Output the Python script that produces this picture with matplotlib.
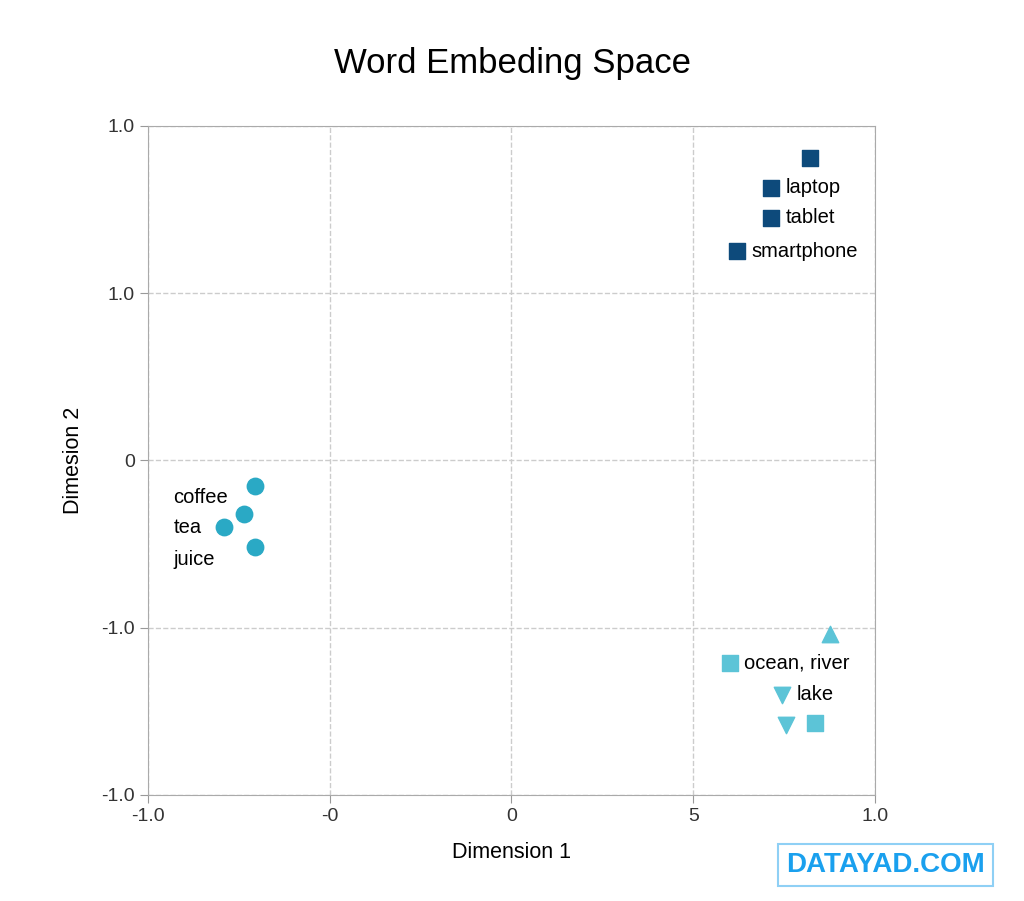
import matplotlib.pyplot as plt

plt.rcParams['font.family'] = ['Liberation Sans', 'DejaVu Sans']

# tick labels as printed on the reference
x_tick_labels = ['-1.0', '-0', '0', '5', '1.0']
y_tick_labels = ['-1.0', '-1.0', '0', '1.0', '1.0']

# tech words (dark squares)
tech_x = [3.64, 3.43, 3.43, 3.24]
tech_y = [3.81, 3.63, 3.45, 3.25]
tech_labels = ['', 'laptop', 'tablet', 'smartphone']

# drinks (circles)
drink_x = [0.59, 0.53, 0.42, 0.59]
drink_y = [1.85, 1.68, 1.60, 1.48]
drink_labels = ['coffee', 'tea', 'juice']
drink_label_y = [1.78, 1.60, 1.41]

# water words
water_sq_x = [3.20, 3.67]
water_sq_y = [0.79, 0.43]
water_up_x = [3.75]
water_up_y = [0.96]
water_dn_x = [3.49, 3.51]
water_dn_y = [0.60, 0.42]

fig = plt.figure(figsize=(10.24, 9.01), dpi=100)
ax = fig.add_axes([0.1445, 0.1177, 0.71, 0.7425])

dark = '#0d4a7b'
mid = '#2aa9c5'
light = '#5cc4d7'

ax.scatter(tech_x, tech_y, marker='s', s=120, color=dark, zorder=3)
for x, y, t in zip(tech_x, tech_y, tech_labels):
    if t:
        ax.text(x + 0.08, y, t, fontsize=14.5, va='center', ha='left')

ax.scatter(drink_x, drink_y, marker='o', s=140, color=mid, zorder=3)
for y, t in zip(drink_label_y, drink_labels):
    ax.text(0.14, y, t, fontsize=14.5, va='center', ha='left')

ax.scatter(water_sq_x, water_sq_y, marker='s', s=120, color=light, zorder=3)
ax.scatter(water_up_x, water_up_y, marker='^', s=140, color=light, zorder=3)
ax.scatter(water_dn_x, water_dn_y, marker='v', s=140, color=light, zorder=3)
ax.text(3.28, 0.79, 'ocean, river', fontsize=14.5, va='center', ha='left')
ax.text(3.57, 0.60, 'lake', fontsize=14.5, va='center', ha='left')

ax.set_xlim(0, 4)
ax.set_ylim(0, 4)
ax.set_xticks(range(5))
ax.set_xticklabels(x_tick_labels)
ax.set_yticks(range(5))
ax.set_yticklabels(y_tick_labels)
ax.tick_params(labelsize=14, length=6, color='#999999', labelcolor='#333333')
ax.grid(True, linestyle='--', color='#cccccc', linewidth=1)
for s in ax.spines.values():
    s.set_color('#aaaaaa')

ax.set_xlabel('Dimension 1', fontsize=15.5, labelpad=12)
ax.set_ylabel('Dimesion 2', fontsize=15.5, labelpad=12)
fig.text(0.5, 0.93, 'Word Embeding Space', fontsize=25, ha='center', va='center')

fig.text(0.865, 0.04, 'DATAYAD.COM', fontsize=20, fontweight='bold', color='#1aa0ee',
         ha='center', va='center',
         bbox=dict(boxstyle='square,pad=0.3', facecolor='white', edgecolor='#8fd0f5', linewidth=1.5))

fig.savefig('out.png', dpi=100)
